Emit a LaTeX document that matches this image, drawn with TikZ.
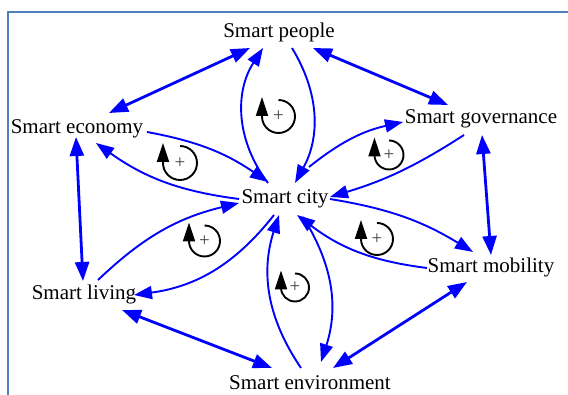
\documentclass[tikz,border=0pt]{standalone}
\usepackage{fontspec}
\setmainfont{Liberation Serif}
\usetikzlibrary{arrows.meta}

\definecolor{framecol}{RGB}{79,129,189}
\definecolor{linkblue}{RGB}{0,0,255}

% loop sign: name, x, y, radius
\newcommand{\loopsign}[4]{%
  \draw[sign] (#2,#3+#4) arc[start angle=90,end angle=-180,radius=#4] -- ++(0,#4+3);
  \node[plus] (#1) at (#2,#3) {+};
}

\begin{document}
\begin{tikzpicture}[x=1pt,y=1pt,
  lbl/.style={inner sep=0pt, font=\fontsize{21}{24}\selectfont},
  link/.style={linkblue, line width=2.8pt, {Triangle[length=19pt,width=14pt]}-{Triangle[length=19pt,width=14pt]}},
  flow/.style={linkblue, line width=1.9pt, -{Triangle[length=18pt,width=13pt]}},
  sign/.style={line width=1.9pt, -{Triangle[length=19pt,width=12pt]}},
  plus/.style={inner sep=0pt, text=black!75, font=\fontsize{19}{19}\selectfont}]
\useasboundingbox (0,0) rectangle (568,395);
\draw[framecol, line width=2pt] (7.7,0) -- (7.7,383.3) -- (568,383.3);

\node[lbl] (people) at (279,363) {Smart people};
\node[lbl] (economy) at (77,266) {Smart economy};
\node[lbl] (governance) at (481,276) {Smart governance};
\node[lbl] (city) at (285,196) {Smart city};
\node[lbl] (living) at (84,101) {Smart living};
\node[lbl] (mobility) at (491,128) {Smart mobility};
\node[lbl] (environment) at (310,12) {Smart environment};

% outer ring
\draw[link] ([shift={(-29,-16)}]people.center) -- ([shift={(32,16)}]economy.center);
\draw[link] ([shift={(34,-16)}]people.center) -- ([shift={(-33,14)}]governance.center);
\draw[link] ([shift={(1,-16)}]governance.center) -- ([shift={(0,12)}]mobility.center);
\draw[link] ([shift={(-24,-15)}]mobility.center) -- ([shift={(23,15)}]environment.center);
\draw[link] ([shift={(-38,15)}]environment.center) -- ([shift={(38,-16)}]living.center);
\draw[link] ([shift={(-1,13)}]living.center) -- ([shift={(-1,-8)}]economy.center);

% people loop
\draw[flow] ([shift={(-17,16)}]city.center) to[bend left=35] ([shift={(-16,-16)}]people.center);
\draw[flow] ([shift={(13,-16)}]people.center) to[bend left=30] ([shift={(10,16)}]city.center);
% economy loop
\draw[flow] ([shift={(70,-3)}]economy.center) to[bend left=12] ([shift={(-17,17)}]city.center);
\draw[flow] ([shift={(-46,0)}]city.center) to[bend left=14] ([shift={(19,-14)}]economy.center);
% governance loop
\draw[flow] ([shift={(24,32)}]city.center) to[bend left=13] ([shift={(-78,-3)}]governance.center);
\draw[flow] ([shift={(-17,-16)}]governance.center) to[bend left=8] ([shift={(45,2)}]city.center);
% mobility loop
\draw[flow] ([shift={(45,0)}]city.center) to[bend left=11] ([shift={(-18,15)}]mobility.center);
\draw[flow] ([shift={(-64,-1)}]mobility.center) to[bend left=15] ([shift={(12,-16)}]city.center);
% living loop
\draw[flow] ([shift={(14,14)}]living.center) to[bend left=15] ([shift={(-46,-4)}]city.center);
\draw[flow] ([shift={(-11,-16)}]city.center) to[bend left=22] ([shift={(50,-1)}]living.center);
% environment loop
\draw[flow] ([shift={(-9,15)}]environment.center) to[bend left=26] ([shift={(-6,-16)}]city.center);
\draw[flow] ([shift={(18,-18)}]city.center) to[bend left=25] ([shift={(11,21)}]environment.center);

\loopsign{plusP}{278.5}{278.5}{16.5}
\loopsign{plusE}{180}{232}{17}
\loopsign{plusG}{389}{240}{14.5}
\loopsign{plusL}{204.5}{154}{15.5}
\loopsign{plusM}{377}{156}{16}
\loopsign{plusV}{295}{107.5}{14}
\end{tikzpicture}
\end{document}
